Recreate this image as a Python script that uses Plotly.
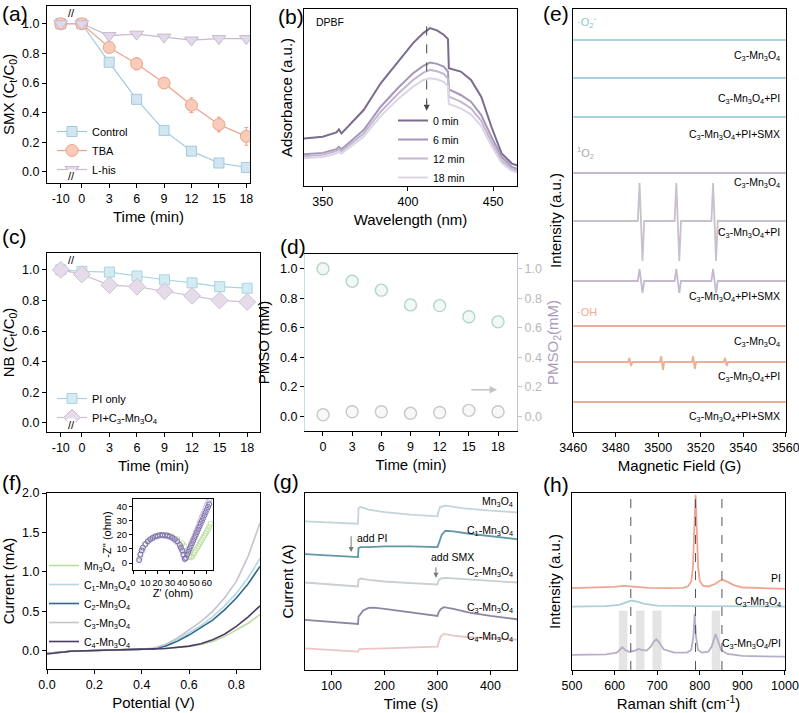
import plotly.graph_objects as go

W, H = 799, 713
FONT = "Liberation Sans, Arial, sans-serif"

# ---------------- (a) SMX removal with scavengers ----------------
a_time = [-10, 0, 3, 6, 9, 12, 15, 18]
a_control = [1.0, 1.0, 0.74, 0.49, 0.28, 0.14, 0.06, 0.03]
a_control_err = [0.01, 0.01, 0.01, 0.01, 0.02, 0.01, 0.01, 0.01]
a_tba = [1.0, 1.0, 0.84, 0.73, 0.60, 0.45, 0.32, 0.24]
a_tba_err = [0.01, 0.01, 0.02, 0.04, 0.03, 0.05, 0.05, 0.06]
a_lhis = [1.0, 1.0, 0.92, 0.93, 0.91, 0.89, 0.90, 0.90]
a_lhis_err = [0.01, 0.01, 0.01, 0.01, 0.01, 0.01, 0.01, 0.01]

# ---------------- (b) DPBF absorbance ----------------
b_wl = [339, 350, 358, 359.5, 361, 374, 384, 394, 403, 409, 413, 417, 421, 423.5,
        424, 431, 437, 443, 449, 455, 461, 465]
b_0min = [185, 190, 203, 212, 200, 270, 350, 415, 470, 500, 515, 508, 495, 482,
          395, 385, 360, 310, 220, 140, 110, 103]
b_6min = [138, 142, 153, 160, 153, 210, 280, 335, 380, 402, 412, 408, 400, 385,
          332, 315, 295, 255, 190, 130, 100, 92]
b_12min = [132, 136, 147, 153, 147, 200, 265, 318, 360, 382, 390, 386, 378, 364,
           310, 295, 275, 238, 175, 120, 93, 86]
b_18min = [126, 130, 140, 145, 140, 190, 252, 302, 340, 360, 365, 362, 354, 342,
           288, 275, 257, 222, 163, 112, 88, 82]

# ---------------- (c) NB probe ----------------
c_time = [-10, 0, 3, 6, 9, 12, 15, 18]
c_pi = [1.0, 0.99, 0.985, 0.96, 0.935, 0.915, 0.89, 0.88]
c_pi_err = [0.01, 0.01, 0.02, 0.02, 0.02, 0.01, 0.02, 0.01]
c_pi_mn = [1.0, 0.97, 0.90, 0.89, 0.86, 0.83, 0.80, 0.79]
c_pi_mn_err = [0.01, 0.02, 0.01, 0.01, 0.02, 0.01, 0.01, 0.01]

# ---------------- (d) PMSO / PMSO2 ----------------
d_time = [0, 3, 6, 9, 12, 15, 18]
d_pmso = [1.0, 0.915, 0.855, 0.755, 0.75, 0.675, 0.64]
d_pmso_err = [0.01, 0.01, 0.01, 0.015, 0.015, 0.04, 0.03]
d_pmso2 = [0.01, 0.03, 0.03, 0.02, 0.025, 0.04, 0.03]
d_pmso2_err = [0.01, 0.01, 0.01, 0.01, 0.01, 0.02, 0.02]

# ---------------- (e) EPR spectra (stacked, arbitrary offsets) ----------------
e_flat_x = [3460, 3560]
e_o2_1 = [-40, -40]
e_o2_2 = [-78, -78]
e_o2_3 = [-117, -117]
e_1o2_1 = [-173, -173]
e_1o2_x = [3460, 3490.4, 3491.2, 3492.6, 3493.4, 3507.7, 3508.5, 3509.9, 3510.7,
           3525.0, 3525.8, 3527.2, 3528.0, 3560]
e_1o2_2 = [-221, -221, -183, -261, -221, -221, -183, -261, -221, -221, -183, -261, -221, -221]
e_1o2_3 = [-281, -281, -269, -293, -281, -281, -269, -293, -281, -281, -269, -293, -281, -281]
e_oh_1 = [-326, -326]
e_oh_x = [3460, 3485.8, 3486.4, 3487.2, 3487.8, 3500.8, 3501.4, 3502.2, 3502.8,
          3515.8, 3516.4, 3517.2, 3517.8, 3530.8, 3531.4, 3532.2, 3532.8, 3560]
e_oh_2 = [-362, -362, -358, -366, -362, -362, -356, -370, -362, -362, -356, -369, -362,
          -362, -358, -366, -362, -362]
e_oh_3 = [-402, -402]
e_label_y = [-56, -99, -135, -183, -233, -297, -342, -377, -417]
e_ticks = [3460, 3480, 3500, 3520, 3540, 3560]

# ---------------- (f) LSV + EIS inset ----------------
f_pot = [0, 0.05, 0.1, 0.2, 0.3, 0.4, 0.45, 0.5, 0.55, 0.6, 0.65, 0.7, 0.75, 0.8, 0.85, 0.9]
f_mn = [-0.03, -0.015, -0.005, 0.005, 0.01, 0.02, 0.025, 0.03, 0.04, 0.055, 0.08, 0.12, 0.18, 0.26, 0.35, 0.46]
f_c1 = [-0.03, -0.015, -0.005, 0.005, 0.01, 0.02, 0.03, 0.07, 0.14, 0.23, 0.32, 0.43, 0.57, 0.73, 0.93, 1.17]
f_c2 = [-0.03, -0.015, -0.005, 0.005, 0.01, 0.02, 0.025, 0.06, 0.12, 0.20, 0.29, 0.39, 0.52, 0.67, 0.85, 1.07]
f_c3 = [-0.03, -0.015, -0.005, 0.005, 0.01, 0.02, 0.035, 0.08, 0.16, 0.26, 0.37, 0.50, 0.67, 0.88, 1.20, 1.62]
f_c4 = [-0.04, -0.02, -0.005, 0.005, 0.01, 0.02, 0.025, 0.03, 0.045, 0.06, 0.09, 0.14, 0.21, 0.31, 0.43, 0.57]

eis_zr = [5, 6, 7, 8, 10, 12, 14, 16, 18, 20, 22, 24, 26, 28, 30, 32, 34, 36, 38, 39, 40, 41, 42,
          43, 44, 45, 46, 47, 48, 49, 50, 51, 52, 53, 54, 55, 56, 57, 58, 59, 60, 61, 62]
eis_c1 = [2, 6, 9, 11, 13.5, 15.5, 17, 18, 19, 19.5, 20, 20, 19.8, 19.5, 19, 18, 17, 15.5, 13,
          11, 9, 6, 3, 3.5, 6, 8, 10, 12, 14, 16, 18, 20, 22, 24, 26, 28, 30, 32, 34, 36, 38, 40, 42]
eis_c3 = [3, 6.5, 9, 11, 13.5, 15, 16.5, 17.5, 18.5, 19, 19.5, 19.5, 19.3, 19, 18.5, 17.5, 16,
          14.5, 12, 10, 8, 5, 2.5, 4, 6.5, 9, 11, 13.5, 15.5, 17.5, 19.5, 22, 24, 26, 28.5, 30.5,
          33, 35, 37, 39.5, 41.5, 43.5, 45]
eis_mn_zr = [6, 8, 10, 13, 16, 20, 24, 28, 32, 36, 40, 42, 44, 45, 46, 47, 48, 49, 50, 51, 52,
             53, 54, 55, 56, 57, 58, 59, 60, 61, 62, 63]
eis_mn = [4, 9, 13, 16, 18, 19.5, 20, 20, 19, 17, 14, 12, 9, 7, 5, 4, 4.5, 6, 7.5, 9, 10.5,
          12, 13.5, 15, 16.5, 18, 19.5, 21, 22.5, 24, 26, 28]

# ---------------- (g) i-t curves (stacked, arbitrary offsets) ----------------
g_mn_t = [50, 100, 150, 151, 155, 170, 200, 250, 300, 301, 305, 315, 350, 400, 450]
g_mn = [-185, -188, -192, -145, -142, -150, -157, -165, -170, -160, -142, -138, -146, -153, -158]
g_c1_t = [50, 100, 140, 150, 151, 155, 170, 200, 250, 300, 303, 308, 315, 330, 360, 400, 450]
g_c1 = [-283, -287, -290, -292, -265, -262, -262, -260, -260, -262, -248, -225, -213, -215, -222, -230, -238]
g_c2_t = [50, 100, 150, 151, 155, 170, 200, 250, 300, 302, 306, 315, 350, 400, 450]
g_c2 = [-368, -373, -380, -360, -356, -360, -365, -370, -374, -362, -356, -354, -358, -363, -368]
g_c3_t = [50, 100, 150, 151, 155, 160, 170, 180, 200, 250, 300, 302, 306, 312, 330, 360, 400, 450]
g_c3 = [-480, -486, -492, -470, -462, -452, -444, -443, -447, -458, -468, -458, -448, -442, -447, -458, -468, -478]
g_c4_t = [50, 100, 150, 152, 160, 200, 250, 300, 302, 306, 312, 330, 360, 400, 450]
g_c4 = [-565, -570, -575, -568, -567, -565, -562, -560, -548, -530, -522, -527, -532, -536, -539]
g_label_y = [-128, -215, -338, -445, -530]

# ---------------- (h) Raman ----------------
h_pi_x = [500, 550, 600, 620, 640, 680, 720, 760, 772, 780, 784, 787, 790, 793, 796, 800,
          808, 820, 835, 848, 855, 865, 880, 900, 950, 1000]
h_pi = [-385, -384, -381, -378, -380, -384, -385, -384, -380, -365, -320, -210, -105, -210,
        -320, -365, -378, -380, -373, -362, -360, -366, -376, -383, -386, -387]
h_mn_x = [500, 580, 610, 625, 640, 655, 670, 700, 800, 1000]
h_mn = [-440, -439, -435, -428, -422, -426, -432, -437, -439, -440]
h_mix_x = [500, 580, 605, 612, 618, 625, 635, 648, 656, 663, 675, 685, 692, 698, 705, 715,
           740, 770, 780, 785, 788, 791, 796, 805, 820, 828, 833, 837, 842, 850, 865, 900, 1000]
h_mix = [-585, -583, -578, -570, -562, -570, -576, -572, -567, -570, -572, -560, -545, -538,
         -548, -568, -578, -578, -570, -530, -462, -530, -570, -578, -575, -560, -535, -522,
         -540, -570, -582, -588, -590]
h_dash = [638, 790, 852]
h_bands = [(610, 630), (650, 670), (689, 710), (828, 848)]
h_ticks = [500, 600, 700, 800, 900, 1000]

MN = "Mn<sub>3</sub>O<sub>4</sub>"
C3MN = "C<sub>3</sub>-" + MN


def xdom(p0, p1):
    return [p0 / W, p1 / W]


def ydom(p0, p1):
    return [1 - p1 / H, 1 - p0 / H]


def tpos(t):
    # axis break: -10 min is drawn just before 0
    return [v if v >= 0 else -2.3 for v in t]


axis = dict(showline=True, linecolor="black", linewidth=1.2, mirror=True, ticks="outside",
            ticklen=4, tickcolor="black", tickfont=dict(size=12.5, color="black"),
            showgrid=False, zeroline=False, automargin=False, ticklabeloverflow="allow",
            title_font=dict(size=15, color="black"), title_standoff=6)
noy = dict(axis, ticks="", showticklabels=False)

fig = go.Figure()

# (a)
for name, y, err, sym, fill, edge, sz in [
        ("Control", a_control, a_control_err, "square", "#d2e6f1", "#a3c9de", 10),
        ("TBA", a_tba, a_tba_err, "circle", "#f9cbbb", "#eca287", 12),
        ("L-his", a_lhis, a_lhis_err, "triangle-down", "#e3dae9", "#c6b9d0", 12)]:
    fig.add_trace(go.Scatter(x=tpos(a_time), y=y, name=name, mode="lines+markers",
                             line=dict(color=edge, width=1.2),
                             marker=dict(symbol=sym, size=sz, color=fill, line=dict(color=edge, width=1)),
                             error_y=dict(type="data", array=err, color=edge, thickness=1, width=2),
                             xaxis="x", yaxis="y", legend="legend"))

# (b)
for name, y, col in [("0 min", b_0min, "#7b6b8f"), ("6 min", b_6min, "#a696b9"),
                     ("12 min", b_12min, "#c3b7d0"), ("18 min", b_18min, "#ddd5e5")]:
    fig.add_trace(go.Scatter(x=b_wl, y=y, name=name, mode="lines",
                             line=dict(color=col, width=2), xaxis="x2", yaxis="y2",
                             legend="legend2"))

# (e)
o2c, s1c, s1c2, ohc = "#aad1e2", "#c4b9cf", "#c8c0cc", "#f1ab96"
for x, y, c in [(e_flat_x, e_o2_1, o2c), (e_flat_x, e_o2_2, o2c), (e_flat_x, e_o2_3, o2c),
                (e_flat_x, e_1o2_1, s1c), (e_1o2_x, e_1o2_2, s1c2), (e_1o2_x, e_1o2_3, s1c),
                (e_flat_x, e_oh_1, ohc), (e_oh_x, e_oh_2, ohc), (e_flat_x, e_oh_3, ohc)]:
    fig.add_trace(go.Scatter(x=x, y=y, mode="lines", line=dict(color=c, width=1.8),
                             showlegend=False, xaxis="x3", yaxis="y3"))

# (c)
for name, y, err, sym, fill, edge, sz in [
        ("PI only", c_pi, c_pi_err, "square", "#d3ebf2", "#a9d4e1", 10),
        ("PI+" + C3MN, c_pi_mn, c_pi_mn_err, "diamond", "#e6dce9", "#cfc0d5", 13)]:
    fig.add_trace(go.Scatter(x=tpos(c_time), y=y, name=name, mode="lines+markers",
                             line=dict(color=edge, width=1.2),
                             marker=dict(symbol=sym, size=sz, color=fill, line=dict(color=edge, width=1)),
                             error_y=dict(type="data", array=err, color=edge, thickness=1, width=2),
                             xaxis="x4", yaxis="y4", legend="legend3"))

# (d)
fig.add_trace(go.Scatter(x=d_time, y=d_pmso, mode="markers", showlegend=False,
                         marker=dict(size=12, color="#f1f8f6", line=dict(color="#b3d6cb", width=1.4)),
                         error_y=dict(type="data", array=d_pmso_err, color="#b3d6cb", thickness=1, width=0),
                         xaxis="x5", yaxis="y5"))
fig.add_trace(go.Scatter(x=d_time, y=d_pmso2, mode="markers", showlegend=False,
                         marker=dict(size=12, color="#f8f8f8", line=dict(color="#c8c8c8", width=1.4)),
                         error_y=dict(type="data", array=d_pmso2_err, color="#c8c8c8", thickness=1, width=0),
                         xaxis="x5", yaxis="y6"))

# (f)
for name, y, col in [(MN, f_mn, "#bedb9f"), ("C<sub>1</sub>-" + MN, f_c1, "#b4d8e4"),
                     ("C<sub>2</sub>-" + MN, f_c2, "#2d6a89"), (C3MN, f_c3, "#c6c4ca"),
                     ("C<sub>4</sub>-" + MN, f_c4, "#4a3c63")]:
    fig.add_trace(go.Scatter(x=f_pot, y=y, name=name, mode="lines",
                             line=dict(color=col, width=1.6), xaxis="x7", yaxis="y7",
                             legend="legend4"))
for x, y, col in [(eis_mn_zr, eis_mn, "#bfe0a2"), (eis_zr, eis_c3, "#cbbde2"),
                  (eis_zr, eis_c1, "#7d72aa")]:
    fig.add_trace(go.Scatter(x=x, y=y, mode="markers", showlegend=False,
                             marker=dict(size=5, color="rgba(255,255,255,0)", line=dict(color=col, width=1)),
                             xaxis="x8", yaxis="y8"))

# (g)
for x, y, col in [(g_mn_t, g_mn, "#c4d4dc"), (g_c1_t, g_c1, "#5f97a8"),
                  (g_c2_t, g_c2, "#c9ced3"), (g_c3_t, g_c3, "#8d85a2"),
                  (g_c4_t, g_c4, "#ebc4c4")]:
    fig.add_trace(go.Scatter(x=x, y=y, mode="lines", line=dict(color=col, width=1.8),
                             showlegend=False, xaxis="x9", yaxis="y9"))

# (h)
for x, y, col in [(h_pi_x, h_pi, "#eda593"), (h_mn_x, h_mn, "#acd0d9"), (h_mix_x, h_mix, "#b7acc9")]:
    fig.add_trace(go.Scatter(x=x, y=y, mode="lines", line=dict(color=col, width=1.8),
                             showlegend=False, xaxis="x10", yaxis="y10"))

shapes = []
for lo, hi in h_bands:
    shapes.append(dict(type="rect", xref="x10", yref="y10", x0=lo, x1=hi, y0=-630, y1=-452,
                       fillcolor="#e4e4e4", line=dict(width=0), layer="below"))
for xv in h_dash:
    shapes.append(dict(type="line", xref="x10", yref="y10 domain", x0=xv, x1=xv, y0=0, y1=1,
                       line=dict(color="#555555", width=1, dash="dash")))
shapes.append(dict(type="line", xref="x2", yref="y2", x0=411, x1=411, y0=520, y1=290,
                   line=dict(color="#444444", width=1, dash="dash")))

ann = []
for txt, px, py in [("(a)", 0, 13), ("(b)", 276, 16), ("(e)", 541, 14), ("(c)", 0, 236),
                    ("(d)", 278, 247), ("(f)", 0, 483), ("(g)", 271, 481), ("(h)", 541, 484)]:
    ann.append(dict(text=txt, x=px / W, y=1 - py / H, xref="paper", yref="paper",
                    xanchor="left", yanchor="middle", showarrow=False, font=dict(size=21)))
for xr, yr in [("x", "y domain"), ("x4", "y4 domain")]:
    for yv in (0, 1):
        ann.append(dict(text="//", x=-1.15, y=yv, xref=xr, yref=yr, showarrow=False,
                        bgcolor="white", borderpad=0, font=dict(size=11)))
ann.append(dict(text="DPBF", x=345, y=532, xref="x2", yref="y2", xanchor="left",
                showarrow=False, font=dict(size=10.5)))
ann.append(dict(text="", x=411, y=268, ax=411, ay=300, xref="x2", yref="y2", axref="x2",
                ayref="y2", showarrow=True, arrowhead=2, arrowsize=1.2, arrowwidth=1, arrowcolor="#444444"))
ann.append(dict(text="", x=17.9, y=0.18, ax=15.1, ay=0.18, xref="x5", yref="y5", axref="x5",
                ayref="y5", showarrow=True, arrowhead=2, arrowsize=1, arrowwidth=1.5, arrowcolor="#c4c4c4"))
e_labels = [C3MN, C3MN + "+PI", C3MN + "+PI+SMX"] * 3
for txt, yv in zip(e_labels, e_label_y):
    ann.append(dict(text=txt, x=3558, y=yv, xref="x3", yref="y3", xanchor="right",
                    showarrow=False, font=dict(size=10.5)))
for txt, yv, col in [("·O<sub>2</sub><sup>-</sup>", -22, "#8cc3d8"), ("<sup>1</sup>O<sub>2</sub>", -153, "#aaaaaa"),
                     ("·OH", -312, "#f0a993")]:
    ann.append(dict(text=txt, x=3461, y=yv, xref="x3", yref="y3", xanchor="left",
                    showarrow=False, font=dict(size=11, color=col)))
g_labels = [MN, "C<sub>1</sub>-" + MN, "C<sub>2</sub>-" + MN, C3MN, "C<sub>4</sub>-" + MN]
for txt, yv in zip(g_labels, g_label_y):
    ann.append(dict(text=txt, x=447, y=yv, xref="x9", yref="y9", xanchor="right",
                    showarrow=False, font=dict(size=10.5)))
ann.append(dict(text="add PI", x=145, y=-235, xref="x9", yref="y9", xanchor="left",
                showarrow=False, font=dict(size=10.5)))
ann.append(dict(text="add SMX", x=328, y=-292, xref="x9", yref="y9", showarrow=False,
                font=dict(size=10.5)))
for xv, y0, y1 in [(137, -225, -277), (297, -318, -354)]:
    ann.append(dict(text="", x=xv, y=y1, ax=xv, ay=y0, xref="x9", yref="y9", axref="x9",
                    ayref="y9", showarrow=True, arrowhead=2, arrowsize=1, arrowwidth=1, arrowcolor="#777777"))
for txt, yv in [("PI", -355), (C3MN, -425), (C3MN + "/PI", -553)]:
    ann.append(dict(text=txt, x=996, y=yv, xref="x10", yref="y10", xanchor="right",
                    showarrow=False, font=dict(size=10.5)))

t_ticks = [-2.3, 0, 3, 6, 9, 12, 15, 18]
t_text = ["-10", "0", "3", "6", "9", "12", "15", "18"]
leg = dict(bgcolor="rgba(0,0,0,0)", font=dict(size=11), xanchor="left", yanchor="top",
           tracegroupgap=0, itemwidth=30)
small = dict(ticklen=3, tickfont=dict(size=9.5, color="black"), tickangle=0,
             title_font=dict(size=11, color="black"), title_standoff=2)

fig.update_layout(
    width=W, height=H, margin=dict(l=0, r=0, t=0, b=0), plot_bgcolor="white",
    paper_bgcolor="white", font=dict(family=FONT, size=13, color="black"),
    shapes=shapes, annotations=ann,
    xaxis=dict(axis, domain=xdom(47, 250), range=[-3.8, 18.4], tickvals=t_ticks, ticktext=t_text,
               anchor="y", title_text="Time (min)"),
    yaxis=dict(axis, domain=ydom(6, 183), range=[-0.075, 1.12], tickvals=[0, 0.2, 0.4, 0.6, 0.8, 1.0],
               tickformat=".1f", anchor="x", title_text="SMX (C<sub>t</sub>/C<sub>0</sub>)"),
    xaxis2=dict(axis, domain=xdom(304, 517), range=[339, 464], tickvals=[350, 400, 450],
                anchor="y2", title_text="Wavelength (nm)"),
    yaxis2=dict(noy, domain=ydom(9, 186), range=[43, 572], anchor="x2", title_text="Adsorbance (a.u.)"),
    xaxis3=dict(axis, domain=xdom(573, 786), range=[3459.9, 3560.1], tickvals=e_ticks, anchor="y3",
                title_text="Magnetic Field (G)"),
    yaxis3=dict(noy, domain=ydom(9, 432), range=[-432, -9], anchor="x3", title_text="Intensity (a.u.)"),
    xaxis4=dict(axis, domain=xdom(47, 260), range=[-3.8, 19.4], tickvals=t_ticks, ticktext=t_text,
                anchor="y4", title_text="Time (min)"),
    yaxis4=dict(axis, domain=ydom(253, 432), range=[-0.06, 1.11], tickvals=[0, 0.2, 0.4, 0.6, 0.8, 1.0],
                tickformat=".1f", anchor="x4", title_text="NB (C<sub>t</sub>/C<sub>0</sub>)"),
    xaxis5=dict(axis, domain=xdom(305, 517), range=[-1.85, 19.95], tickvals=d_time, anchor="y5",
                title_text="Time (min)"),
    yaxis5=dict(axis, domain=ydom(254, 431), range=[-0.10, 1.10], tickvals=[0, 0.2, 0.4, 0.6, 0.8, 1.0],
                tickformat=".1f", anchor="x5", mirror=False, linecolor="#c3dfe8",
                title_text="PMSO (mM)"),
    yaxis6=dict(axis, domain=ydom(254, 431), range=[-0.10, 1.10], tickvals=[0, 0.2, 0.4, 0.6, 0.8, 1.0],
                tickformat=".1f", anchor="x5", overlaying="y5", side="right", mirror=False,
                linecolor="#c4c4c4", tickcolor="#c4c4c4", tickfont=dict(size=12.5, color="#b8b8b8"),
                title_text="PMSO<sub>2</sub>(mM)", title_font=dict(size=15, color="#a99cbb")),
    xaxis7=dict(axis, domain=xdom(47, 260), range=[0, 0.9], tickvals=[0, 0.2, 0.4, 0.6, 0.8],
                tickformat=".1f", anchor="y7", title_text="Potential (V)"),
    yaxis7=dict(axis, domain=ydom(493, 669), range=[-0.23, 2.0], tickvals=[0, 0.5, 1.0, 1.5, 2.0],
                tickformat=".1f", anchor="x7", title_text="Current (mA)"),
    xaxis8=dict(axis, domain=xdom(133, 213), range=[0, 65], dtick=10, anchor="y8",
                title_text="Z' (ohm)", **small),
    yaxis8=dict(axis, domain=ydom(499, 570), range=[-5, 45.7], dtick=10, anchor="x8",
                title_text="-Z'' (ohm)", **small),
    xaxis9=dict(axis, domain=xdom(305, 517), range=[50, 450], tickvals=[100, 200, 300, 400],
                anchor="y9", title_text="Time (s)"),
    yaxis9=dict(noy, domain=ydom(493, 670), range=[-630, -100], anchor="x9", title_text="Current (A)"),
    xaxis10=dict(axis, domain=xdom(572, 785), range=[499.9, 1000.1], tickvals=h_ticks, anchor="y10",
                 title_text="Raman shift (cm<sup>-1</sup>)"),
    yaxis10=dict(noy, domain=ydom(493, 670), range=[-630, -100], anchor="x10",
                 title_text="Intensity (a.u.)"),
    legend=dict(leg, x=52 / W, y=1 - 117 / H),
    legend2=dict(leg, x=393 / W, y=1 - 106 / H, font=dict(size=10.5)),
    legend3=dict(leg, x=52 / W, y=1 - 384 / H),
    legend4=dict(leg, x=44 / W, y=1 - 551 / H, font=dict(size=10.5)),
)

# the page's default body margin would push the figure 8 px off the window
fig.write_html("out.html", config={"displayModeBar": False},
               post_script="document.body.style.margin = '0';")
